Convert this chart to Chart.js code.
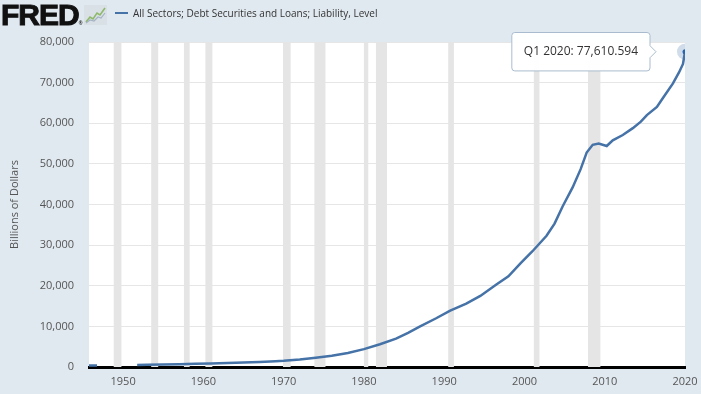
<!doctype html>
<html lang="en">
  <head>
    <meta charset="utf-8">
    <title>All Sectors; Debt Securities and Loans; Liability, Level</title>
    <script src="https://cdn.jsdelivr.net/npm/chart.js"></script>
    <style>
      html, body { margin: 0; padding: 0; background: #e1e9f0; }
      #wrap { position: relative; width: 701px; height: 394px; }
      #chart { position: absolute; left: 0; top: 0; }
      .logo { position: absolute; left: 1px; top: -2px; font: 700 30px "Liberation Sans", Arial, sans-serif; letter-spacing: -1px; color: #111; -webkit-text-stroke: 1px #111; }
      .logo sup { font-size: 5px; letter-spacing: 0; -webkit-text-stroke: 0; vertical-align: top; position: relative; top: 22px; }
      .icon { position: absolute; left: 84px; top: 5px; }
      .legend { position: absolute; left: 115px; top: 6px; font: 10px "Open Sans", sans-serif; color: #333; }
      .legend .swatch { display: inline-block; width: 13px; height: 2px; background: #4572a7; vertical-align: middle; margin-right: 5px; position: relative; top: -1px; }
    </style>
  </head>
  <body>
  <div id="wrap">
    <canvas id="chart" width="701" height="394"></canvas>
    <div class="logo">FRED<sup>&reg;</sup></div>
    <svg class="icon" width="23" height="20" viewBox="0 0 23 20">
      <rect x="0" y="0" width="23" height="20" fill="#d9e0e6"/>
      <polyline points="2,17 6,12 9,14 13,8 16,10 21,3" fill="none" stroke="#8fb96a" stroke-width="1.6"/>
      <polyline points="2,18 6,15 10,16 14,12 17,13 21,8" fill="none" stroke="#a3b3c4" stroke-width="1.2"/>
    </svg>
    <div class="legend"><span class="swatch"></span>All Sectors; Debt Securities and Loans; Liability, Level</div>
  </div>
  <script>
    // quarterly dates as decimal years (null value = gap in the series)
    const years = [1945.75, 1946.75, 1949,
      1951.75, 1953, 1955, 1957, 1959, 1961, 1963, 1965, 1967, 1969, 1970,
      1972, 1974, 1976, 1978, 1980, 1982, 1984, 1985.5, 1987, 1989,
      1990.75, 1992.75, 1994.5, 1996.5, 1998, 1999.5, 2001, 2002.75, 2003.75, 2004.75,
      2006, 2007, 2007.75, 2008.5, 2009.25, 2010.25, 2011, 2012.25, 2013.5, 2014.5,
      2015.25, 2016.5, 2017.25, 2018.5, 2019.25, 2019.75, 2020];
    const values = [355, 365, null,
      520, 560, 620, 690, 770, 850, 960, 1100, 1240, 1420, 1520,
      1850, 2300, 2750, 3450, 4400, 5600, 7000, 8400, 10000, 12000,
      13900, 15600, 17500, 20300, 22300, 25500, 28500, 32300, 35300, 39500,
      44200, 48700, 52800, 54700, 55000, 54400, 55800, 57100, 58800, 60400,
      62000, 64000, 66200, 69800, 72500, 74600, 77610.594];
    const lastLabel = 'Q1 2020';

    const recessionStart = [1948.83, 1953.5, 1957.58, 1960.25, 1969.92, 1973.83, 1980.0, 1981.5, 1990.5, 2001.17, 2007.92];
    const recessionEnd   = [1949.79, 1954.37, 1958.29, 1961.12, 1970.87, 1975.21, 1980.54, 1982.87, 1991.21, 2001.87, 2009.46];

    const xTicks = [1950, 1960, 1970, 1980, 1990, 2000, 2010, 2020];
    const yTicks = [0, 10000, 20000, 30000, 40000, 50000, 60000, 70000, 80000];

    const blue = '#4572a7';
    const last = values.length - 1;
    const points = years.map((y, i) => ({ x: y, y: values[i] }));

    const plotBackground = {
      id: 'plotBackground',
      beforeDraw(chart) {
        const a = chart.chartArea;
        chart.ctx.save();
        chart.ctx.fillStyle = '#ffffff';
        chart.ctx.fillRect(a.left, a.top, a.right - a.left, a.bottom - a.top);
        chart.ctx.restore();
      }
    };

    const recessions = {
      id: 'recessions',
      beforeDatasetsDraw(chart) {
        const a = chart.chartArea;
        const xs = chart.scales.x;
        const c = chart.ctx;
        c.save();
        c.fillStyle = '#e5e5e5';
        recessionStart.forEach((s, i) => {
          const x0 = Math.max(xs.getPixelForValue(s), a.left);
          const x1 = Math.min(xs.getPixelForValue(recessionEnd[i]), a.right);
          c.fillRect(x0, a.top, x1 - x0, a.bottom - a.top);
        });
        c.restore();
      }
    };

    const chart = new Chart(document.getElementById('chart'), {
      type: 'line',
      data: {
        datasets: [{
          data: points,
          borderColor: blue,
          borderWidth: 2.5,
          tension: 0,
          spanGaps: false,
          pointRadius: ctx => ctx.dataIndex === last ? 2.5 : 0,
          pointHoverRadius: ctx => ctx.dataIndex === last ? 2.5 : 0,
          pointBackgroundColor: blue,
          pointBorderWidth: 0,
          pointHoverBorderWidth: 0,
          order: 1
        }, {
          data: [points[last]],
          showLine: false,
          pointRadius: 8,
          pointHoverRadius: 8,
          pointBackgroundColor: 'rgba(69,114,167,0.25)',
          pointHoverBackgroundColor: 'rgba(69,114,167,0.25)',
          pointBorderWidth: 0,
          pointHoverBorderWidth: 0,
          order: 2
        }]
      },
      plugins: [plotBackground, recessions],
      options: {
        responsive: false,
        animation: false,
        events: [],
        layout: { padding: { left: 0, right: 16, top: 42, bottom: 0 } },
        plugins: {
          legend: { display: false },
          tooltip: {
            enabled: true,
            filter: item => item.datasetIndex === 0,
            xAlign: 'right',
            yAlign: 'center',
            caretSize: 6,
            caretPadding: 29,
            backgroundColor: 'rgba(255,255,255,0.96)',
            borderColor: '#a9bccf',
            borderWidth: 1,
            cornerRadius: 3,
            padding: { x: 12, y: 12 },
            displayColors: false,
            bodyColor: '#333333',
            bodyFont: { family: 'Open Sans', size: 12 },
            callbacks: {
              title: () => '',
              label: ctx => lastLabel + ': ' + ctx.parsed.y.toLocaleString('en-US', { minimumFractionDigits: 3 })
            }
          }
        },
        scales: {
          x: {
            type: 'linear',
            min: years[0],
            max: years[last],
            afterBuildTicks: s => { s.ticks = xTicks.map(v => ({ value: v })); },
            afterFit: s => { s.height = 27; s.paddingLeft = 0; s.paddingRight = 0; },
            ticks: {
              color: '#555',
              font: { family: 'Open Sans', size: 11 },
              padding: 8,
              maxRotation: 0,
              callback: v => String(v)
            },
            grid: { display: false, drawTicks: false },
            border: { display: true, color: '#000', width: 3 }
          },
          y: {
            min: 0,
            max: 80000,
            afterBuildTicks: s => { s.ticks = yTicks.map(v => ({ value: v })); },
            afterFit: s => { s.width = 89; },
            ticks: {
              color: '#555',
              font: { family: 'Open Sans', size: 11 },
              padding: 15,
              callback: v => v.toLocaleString('en-US')
            },
            grid: {
              drawTicks: false,
              color: ctx => ctx.tick && ctx.tick.value === 0 ? 'rgba(0,0,0,0)' : '#e6e6e6',
              lineWidth: 1
            },
            border: { display: false },
            title: {
              display: true,
              text: 'Billions of Dollars',
              color: '#555',
              font: { family: 'Open Sans', size: 11 },
              padding: { top: 8, bottom: 0 }
            }
          }
        }
      }
    });

    const active = [{ datasetIndex: 0, index: last }];
    chart.setActiveElements(active);
    chart.tooltip.setActiveElements(active, { x: 0, y: 0 });
    chart.update();
  </script>
  </body>
</html>
